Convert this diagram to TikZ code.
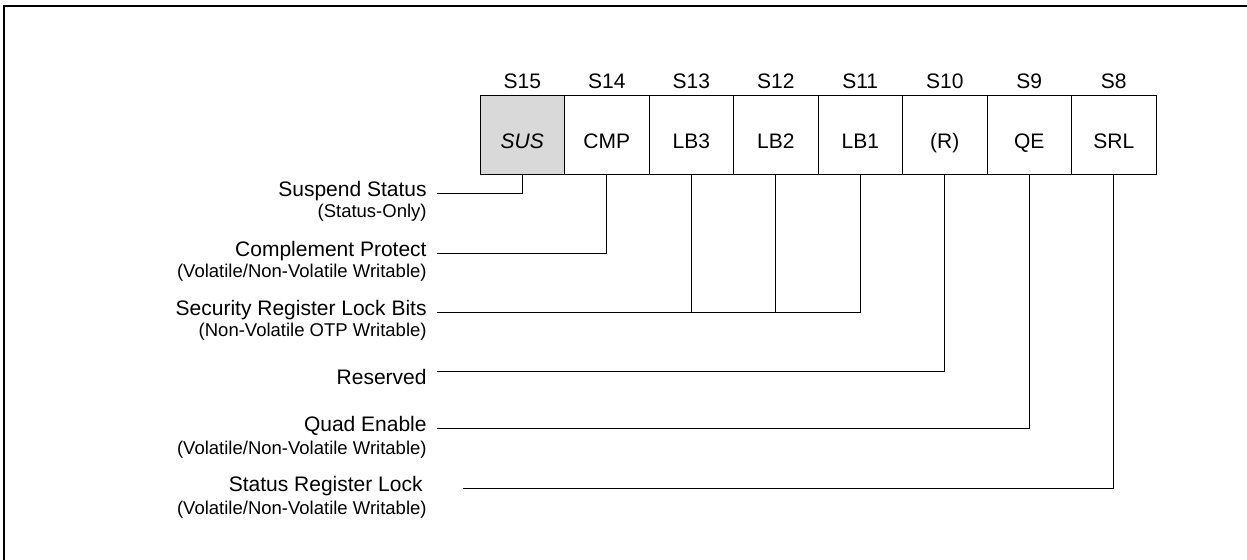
\documentclass[tikz,border=0pt]{standalone}
\usepackage{fontspec}
\setmainfont{Liberation Sans}
\usetikzlibrary{positioning}
\tikzset{
	regbox/.style={draw, line width=0.5pt, minimum width=42.25pt, minimum height=39.5pt, inner sep=0pt, text height=13.5pt, text depth=0pt, font=\fontsize{10.5pt}{12pt}\selectfont},
	bitname/.style={inner sep=0pt, text depth=0pt, font=\fontsize{10.5pt}{12pt}\selectfont},
	field/.style={anchor=base east, inner xsep=5pt, inner ysep=0pt, text height=7.5pt, text depth=4.5pt, font=\fontsize{10.5pt}{12pt}\selectfont},
	access/.style={anchor=base east, inner sep=0pt, font=\fontsize{9.25pt}{11pt}\selectfont},
	wire/.style={line width=0.5pt}
}

\begin{document}
\begin{tikzpicture}[x=0.5pt, y=-0.5pt]
			%%%%% FRAME %%%%%
			\useasboundingbox (0,0) rectangle (1247,560);
			\draw[line width=1pt] (1247,6) -- (4,6) -- (4,560);
			
			%%%%% REGISTER %%%%%
			\foreach \bit/\txt/\shade [count=\i from 0] in {15/\textit{SUS}/black!15, 14/CMP/white, 13/LB3/white, 12/LB2/white, 11/LB1/white, 10/(R)/white, 9/QE/white, 8/SRL/white}{
				\node[regbox, fill=\shade] (s\bit) at ({480+84.5*(\i+0.5)}, 135.5) {\txt};
				\node[bitname, above=3.5pt of s\bit] (h\bit) {S\bit};
			}
			
			%%%%% FIELDS %%%%%
			\node[field] (sus) at (437,197) {Suspend Status};
			\node[access] (sus-acc) at (427,218) {(Status-Only)};
			
			\node[field] (cmp) at (437,257) {Complement Protect};
			\node[access] (cmp-acc) at (427,278) {(Volatile/Non-Volatile Writable)};
			
			\node[field] (lb) at (437,316) {Security Register Lock Bits};
			\node[access] (lb-acc) at (427,337) {(Non-Volatile OTP Writable)};
			
			\node[field] (rsv) at (437,385) {Reserved};
			
			\node[field] (qe) at (437,432) {Quad Enable};
			\node[access] (qe-acc) at (427,455) {(Volatile/Non-Volatile Writable)};
			
			\node[field] (srl) at (433,492) {Status Register Lock};
			\node[access] (srl-acc) at (427,515) {(Volatile/Non-Volatile Writable)};
			
			%%%%% WIRES %%%%%
			\draw[wire] (s15.south) |- (sus.east);
			\draw[wire] (s14.south) |- (cmp.east);
			\draw[wire] (s11.south) |- (lb.east);
			\draw[wire] (s13.south) -- (s13.south |- lb.east);
			\draw[wire] (s12.south) -- (s12.south |- lb.east);
			\draw[wire] (s10.south) |- ([yshift=5pt]rsv.east);
			\draw[wire] (s9.south) |- (qe.east);
			\draw[wire] (s8.south) |- ([xshift=15pt]srl.east);
\end{tikzpicture}
\end{document}
